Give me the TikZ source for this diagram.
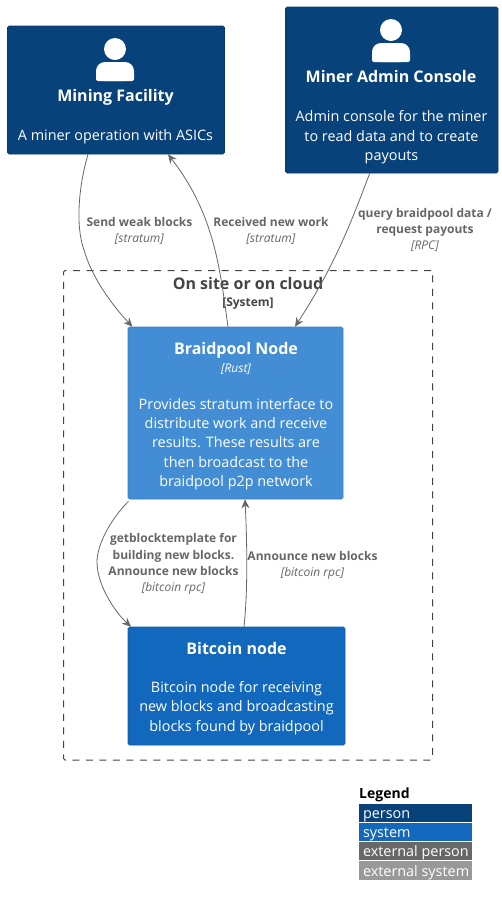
\documentclass[tikz,border=0pt]{standalone}
\usepackage{fontspec}
\setmainfont{Open Sans}
\usetikzlibrary{arrows.meta}
\definecolor{personblue}{HTML}{08427B}
\definecolor{nodeblue}{HTML}{438DD5}
\definecolor{systemblue}{HTML}{1168BD}
\definecolor{extperson}{HTML}{686868}
\definecolor{extsystem}{HTML}{999999}
\definecolor{linkgray}{HTML}{666666}
\definecolor{boundgray}{HTML}{444444}
\tikzstyle{box}=[rectangle,
rounded corners=1.5pt,
inner sep=0pt,
line width=0.6pt]
\tikzstyle{boxtext}=[text=white,
align=center,
inner sep=0pt,
font=\fontsize{14.4}{19.3}\selectfont]
\tikzstyle{boxtitle}=[text=white,
align=center,
inner sep=0pt,
font=\fontsize{16}{20}\selectfont\bfseries]
\tikzstyle{linklabel}=[text=linkgray,
align=center,
inner sep=0pt,
font=\fontsize{12}{16.2}\selectfont]
\tikzstyle{legendrow}=[rectangle,
inner sep=0pt,
minimum width=113pt,
text=white,
text height=12pt,
text depth=1pt,
font=\fontsize{14.4}{16}\selectfont]
\tikzstyle{link}=[->,
draw=linkgray,
line width=0.8pt]
\tikzset{
	person/.pic={
		\fill[white] (0,0) circle (11);
		\fill[white,rounded corners=9pt] (-19,32) rectangle (19,13);
		\fill[white,rounded corners=2pt] (-19,32) rectangle (19,22);
	}
}

\begin{document}
\begin{tikzpicture}[x=1pt,y=-1pt,>={Stealth[length=9pt,width=8pt]}]
	\useasboundingbox (0,0) rectangle (502,906);
	
	% System boundary comes first, everything else sits on it
	\node (boundary) [box,draw=boundgray,dash pattern=on 7pt off 6.5pt,line width=1pt,minimum width=369pt,minimum height=489.5pt] at (248,515.25) {};
	\node (boundtitle) [inner sep=0pt,text=boundgray,font=\fontsize{16}{20}\selectfont\bfseries] at (248,283) {On site or on cloud};
	\node (boundtype) [inner sep=0pt,text=boundgray,font=\fontsize{12}{16}\selectfont\bfseries] at (248,304) {[System]};
	
	% The four boxes
	\node (facility) [box,fill=personblue,draw=personblue!90!black,minimum width=217pt,minimum height=128pt] at (116,90) {};
	\node (console)  [box,fill=personblue,draw=personblue!90!black,minimum width=212.5pt,minimum height=166pt] at (391.75,90) {};
	\node (braidpool) [box,fill=nodeblue,draw=nodeblue!90!black,minimum width=215pt,minimum height=172pt] at (235.5,413) {};
	\node (bitcoin)  [box,fill=systemblue,draw=systemblue!90!black,minimum width=217pt,minimum height=118pt] at (236.5,686) {};
	
	% Person icons
	\pic at (115,49) {person};
	\pic at (391,30) {person};
	
	% Box texts
	\node (facilityname) [boxtitle] at (115.5,97) {Mining Facility};
	\node (facilitydesc) [boxtext] at (115.5,137) {A miner operation with ASICs};
	\node (consolename) [boxtitle] at (391,76) {Miner Admin Console};
	\node (consoledesc) [boxtext] at (391.5,137.5) {Admin console for the miner\\to read data and to create\\payouts};
	\node (braidname) [boxtitle] at (236,350) {Braidpool Node};
	\node (braidtech) [boxtext,font=\fontsize{12}{16}\selectfont\itshape] at (236,369) {[Rust]};
	\node (braiddesc) [boxtext] at (236,444) {Provides stratum interface to\\distribute work and receive\\results. These results are\\then broadcast to the\\braidpool p2p network};
	\node (bitcoinname) [boxtitle] at (236.5,648) {Bitcoin node};
	\node (bitcoindesc) [boxtext] at (236.5,708) {Bitcoin node for receiving\\new blocks and broadcasting\\blocks found by braidpool};
	
	% The connectors between the boxes
	\draw[link] ([xshift=-28pt]facility.south) .. controls (79,185) and (75,225) .. (84,250)
	.. controls (91,275) and (110,303) .. ([xshift=-103pt]braidpool.north);
	\draw[link] ([xshift=-7.5pt]braidpool.north) .. controls (220,270) and (215,215) .. ([xshift=52pt]facility.south);
	\draw[link] ([xshift=-22pt]console.south) .. controls (350,225) and (335,265) .. ([xshift=59.5pt]braidpool.north);
	\draw[link] ([xshift=-107pt,yshift=-2pt]braidpool.south) .. controls (110,520) and (97,545) .. (97,562)
	.. controls (97,585) and (115,612) .. ([xshift=-105.5pt]bitcoin.north);
	\draw[link] ([xshift=7.5pt]bitcoin.north) .. controls (248,590) and (247,540) .. ([xshift=9.5pt]braidpool.south);
	
	% Labels on the connectors
	\node (sendlabel) [linklabel] at (139.5,231) {\textbf{Send weak blocks}\\\textit{[stratum]}};
	\node (worklabel) [linklabel] at (271,231) {\textbf{Received new work}\\\textit{[stratum]}};
	\node (querylabel) [linklabel] at (425,230) {\textbf{query braidpool data /}\\\textbf{request payouts}\\\textit{[RPC]}};
	\node (templatelabel) [linklabel] at (173.5,564) {\textbf{getblocktemplate for}\\\textbf{building new blocks.}\\\textbf{Announce new blocks}\\\textit{[bitcoin rpc]}};
	\node (announcelabel) [linklabel] at (312.5,565.5) {\textbf{Announce new blocks}\\\textit{[bitcoin rpc]}};
	
	% Legend
	\node (legendtitle) [inner sep=0pt,anchor=west,font=\fontsize{14}{16}\selectfont\bfseries] at (359,795) {Legend};
	\node (legendperson) [legendrow,fill=personblue,minimum height=18pt] at (415.5,813) {\makebox[105pt][l]{person}};
	\node (legendsystem) [legendrow,fill=systemblue,minimum height=18pt] at (415.5,832) {\makebox[105pt][l]{system}};
	\node (legendextp) [legendrow,fill=extperson,minimum height=18pt] at (415.5,851) {\makebox[105pt][l]{external person}};
	\node (legendexts) [legendrow,fill=extsystem,minimum height=19pt] at (415.5,870.5) {\makebox[105pt][l]{external system}};
\end{tikzpicture}
\end{document}
